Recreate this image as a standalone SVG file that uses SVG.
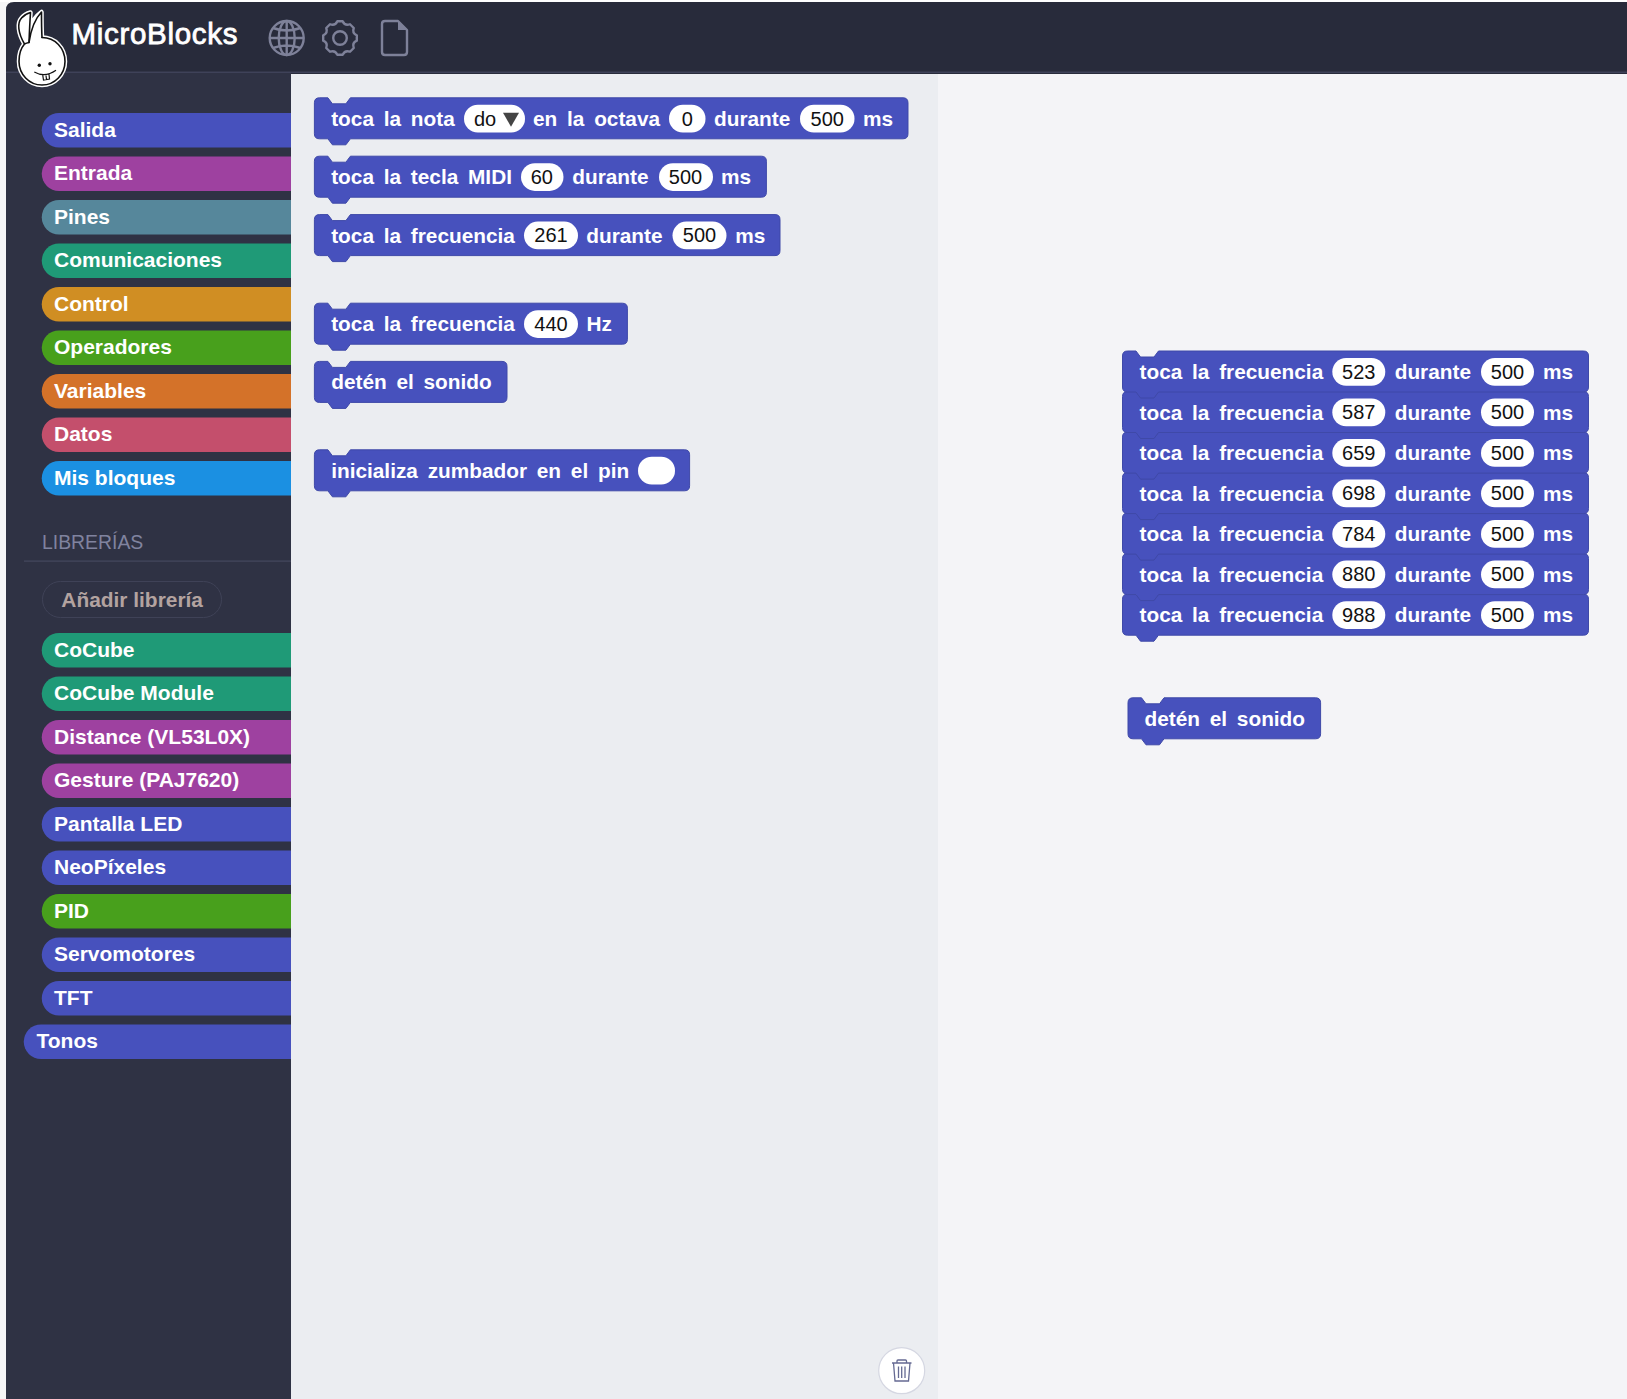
<svg xmlns="http://www.w3.org/2000/svg" width="1627" height="1399" viewBox="0 0 1627 1399">
<style>
text{font-family:"Liberation Sans",Arial,sans-serif}
.bt{font-weight:700;font-size:20.8px;fill:#fff;word-spacing:4px}
.num{font-size:20px;fill:#111;text-anchor:middle}
.pill{fill:#fff}
.blk{fill:#4751bd;stroke:#3f49a8;stroke-width:1}
.cat{font-weight:700;font-size:21px;fill:#fff}
.ic{fill:none;stroke:#7e8199;stroke-width:2.4}
.ln{fill:none;stroke:#111;stroke-width:1.6;stroke-linejoin:round;stroke-linecap:round}
</style>
<defs>
<path id="stackShape" class="blk" d="M5 0H13.500L18 6H31.500L36 0H461Q466 0 466 5V36Q466 41 461 41H36L31.500 47H18L13.500 41H5Q0 41 0 36V5Q0 0 5 0Z"/>
</defs>
<rect width="1627" height="1399" fill="#f6f6f7"/>
<rect y="0" width="1627" height="2" fill="#fff"/>
<g id="window">
<path d="M14 2H1627V74H6V10Q6 2 14 2Z" fill="#282b3b"/>
<rect x="6" y="72" width="285" height="1327" fill="#2f3244"/>
<rect x="6" y="71.500" width="1621" height="1.500" fill="#3f4259"/>
<rect x="291" y="74" width="647" height="1325" fill="#ebedf1"/>
<rect x="938" y="74" width="689" height="1325" fill="#f4f4f7"/>
</g>
<g id="title"><text x="71.500" y="43.800" font-size="29.500" letter-spacing=".7" stroke="#fff" stroke-width=".8" fill="#fff">MicroBlocks</text></g>
<g id="logo">
<path d="M24.500 44C18 33 17 23 21.500 18C24 15 27 13.500 30.500 12.500C30 20 29.500 24 29.800 28C32 22 36 16 41.500 12C41.500 20 41.500 28 42 37.500C55 37.500 65 48 65 61.500C65 74 55 85 42 85C29 85 19 74 19 61.500C19 54 21 48 24.500 44Z" fill="#fff" stroke="#fff" stroke-width="4.500" stroke-linejoin="round"/>
<path class="ln" d="M42 37.500C55 37.500 65 48 65 61.500C65 74 55 85 42 85C29 85 19 74 19 61.500C19 54 21 48 24.500 44C18 33 17 23 21.500 18C24 15 27 13.500 30.500 12.500C30 20 29.500 30 29 42.500C26.500 43 25.500 43.500 24.500 44"/>
<path class="ln" d="M29 42.500C30.500 32 33 21 41.500 12C41.500 20 41.500 28 42 37.500"/>
<circle cx="39.300" cy="65.300" r="1.700" fill="#111"/><circle cx="50" cy="63.700" r="1.700" fill="#111"/>
<path d="M34.300 72Q45 78 56 70.300M42.700 74.800L43.500 80L49.500 79L49 74.300M46 75.500L46.500 79.500" fill="none" stroke="#111" stroke-width="1.200"/>
</g>
<g id="icon-globe" class="ic"><circle cx="286.700" cy="38" r="17"/><ellipse cx="286.700" cy="38" rx="8" ry="17"/><path d="M286.700 21V55M269.700 38H303.700M273 28Q286.700 33 300.400 28M273 48Q286.700 43 300.400 48"/></g>
<g id="icon-gear" class="ic"><circle cx="340" cy="38" r="6.800"/><path transform="translate(340,38)" stroke-linejoin="round" d="M16.800 -2.660L16.800 2.660Q11.830 4.900 13.750 9.990L9.990 13.750Q4.900 11.830 2.660 16.800L-2.660 16.800Q-4.900 11.830 -9.990 13.750L-13.750 9.990Q-11.830 4.900 -16.800 2.660L-16.800 -2.660Q-11.830 -4.900 -13.750 -9.990L-9.990 -13.750Q-4.900 -11.830 -2.660 -16.800L2.660 -16.800Q4.900 -11.830 9.990 -13.750L13.750 -9.990Q11.830 -4.900 16.800 -2.660Z"/></g>
<g id="icon-doc" class="ic"><path d="M385 21H398L407 30V52Q407 55 404 55H385Q382 55 382 52V24Q382 21 385 21Z" stroke-linejoin="round"/><path d="M398 21L407 30H398Z" fill="#7e8199" stroke="none"/></g>
<g id="categories">
<g id="cat-salida"><path d="M291 113H59A17.250 17.250 0 0 0 59 147.500H291Z" fill="#4751bd"/><text class="cat" x="54" y="136.600">Salida</text></g>
<g id="cat-entrada"><path d="M291 156.500H59A17.250 17.250 0 0 0 59 191H291Z" fill="#9e41a0"/><text class="cat" x="54" y="180">Entrada</text></g>
<g id="cat-pines"><path d="M291 200H59A17.250 17.250 0 0 0 59 234.500H291Z" fill="#56879b"/><text class="cat" x="54" y="223.600">Pines</text></g>
<g id="cat-comunicaciones"><path d="M291 243.500H59A17.250 17.250 0 0 0 59 278H291Z" fill="#1f9a77"/><text class="cat" x="54" y="267">Comunicaciones</text></g>
<g id="cat-control"><path d="M291 287H59A17.250 17.250 0 0 0 59 321.500H291Z" fill="#d08e23"/><text class="cat" x="54" y="310.600">Control</text></g>
<g id="cat-operadores"><path d="M291 330.500H59A17.250 17.250 0 0 0 59 365H291Z" fill="#48a01c"/><text class="cat" x="54" y="354">Operadores</text></g>
<g id="cat-variables"><path d="M291 374H59A17.250 17.250 0 0 0 59 408.500H291Z" fill="#d47229"/><text class="cat" x="54" y="397.600">Variables</text></g>
<g id="cat-datos"><path d="M291 417.500H59A17.250 17.250 0 0 0 59 452H291Z" fill="#c44f6c"/><text class="cat" x="54" y="441">Datos</text></g>
<g id="cat-misbloques"><path d="M291 461H59A17.250 17.250 0 0 0 59 495.500H291Z" fill="#1b90e2"/><text class="cat" x="54" y="484.600">Mis bloques</text></g>
</g>
<g id="libraries-head">
<text x="42" y="549.300" font-size="19.400" fill="#80839f">LIBRERÍAS</text>
<rect x="24" y="560.500" width="267" height="1.200" fill="#45485f"/>
<rect x="42.500" y="581.500" width="179" height="36" rx="18" fill="none" stroke="#3f4257"/>
<text x="61.300" y="606.700" font-size="20.900" font-weight="700" fill="#b3a3a0">Añadir librería</text>
</g>
<g id="libraries">
<g id="lib-cocube"><path d="M291 633H59A17.250 17.250 0 0 0 59 667.500H291Z" fill="#1f9a77"/><text class="cat" x="54" y="656.600">CoCube</text></g>
<g id="lib-cocubemodule"><path d="M291 676.500H59A17.250 17.250 0 0 0 59 711H291Z" fill="#1f9a77"/><text class="cat" x="54" y="700">CoCube Module</text></g>
<g id="lib-distance"><path d="M291 720H59A17.250 17.250 0 0 0 59 754.500H291Z" fill="#9e41a0"/><text class="cat" x="54" y="743.600">Distance (VL53L0X)</text></g>
<g id="lib-gesture"><path d="M291 763.500H59A17.250 17.250 0 0 0 59 798H291Z" fill="#9e41a0"/><text class="cat" x="54" y="787">Gesture (PAJ7620)</text></g>
<g id="lib-pantalla"><path d="M291 807H59A17.250 17.250 0 0 0 59 841.500H291Z" fill="#4751bd"/><text class="cat" x="54" y="830.600">Pantalla LED</text></g>
<g id="lib-neopixeles"><path d="M291 850.500H59A17.250 17.250 0 0 0 59 885H291Z" fill="#4751bd"/><text class="cat" x="54" y="874">NeoPíxeles</text></g>
<g id="lib-pid"><path d="M291 894H59A17.250 17.250 0 0 0 59 928.500H291Z" fill="#48a01c"/><text class="cat" x="54" y="917.600">PID</text></g>
<g id="lib-servomotores"><path d="M291 937.500H59A17.250 17.250 0 0 0 59 972H291Z" fill="#4751bd"/><text class="cat" x="54" y="961">Servomotores</text></g>
<g id="lib-tft"><path d="M291 981H59A17.250 17.250 0 0 0 59 1015.500H291Z" fill="#4751bd"/><text class="cat" x="54" y="1004.600">TFT</text></g>
<g id="lib-tonos"><path d="M291 1024.500H41A17.250 17.250 0 0 0 41 1059H291Z" fill="#4751bd"/><text class="cat" x="36.500" y="1048">Tonos</text></g>
</g>
<g id="connectors"/>
<g id="palette">
<g id="b-nota" transform="translate(0,97.800)">
<path class="blk" transform="translate(314.400,0)" d="M5 0H13.500L18 6H31.500L36 0H588.600Q593.600 0 593.600 5V36Q593.600 41 588.600 41H36L31.500 47H18L13.500 41H5Q0 41 0 36V5Q0 0 5 0Z"/>
<text class="bt" x="331.200" y="28">toca la nota</text>
<rect class="pill" x="464" y="7" width="61" height="27.700" rx="13.850"/><text class="num" x="485" y="27.800">do</text><path d="M503 15H519L511 29Z" fill="#444"/>
<text class="bt" x="533" y="28">en la octava</text>
<rect class="pill" x="669" y="7" width="36.500" height="27.700" rx="13.850"/><text class="num" x="687.200" y="27.800">0</text>
<text class="bt" x="714" y="28">durante</text>
<rect class="pill" x="800" y="7" width="54.500" height="27.700" rx="13.850"/><text class="num" x="827.300" y="27.800">500</text>
<text class="bt" x="863" y="28">ms</text>
</g>
<g id="b-midi" transform="translate(0,156.200)">
<path class="blk" transform="translate(314.400,0)" d="M5 0H13.500L18 6H31.500L36 0H447Q452 0 452 5V36Q452 41 447 41H36L31.500 47H18L13.500 41H5Q0 41 0 36V5Q0 0 5 0Z"/>
<text class="bt" x="331.200" y="28">toca la tecla MIDI</text>
<rect class="pill" x="521" y="7" width="42.500" height="27.700" rx="13.850"/><text class="num" x="541.800" y="27.800">60</text>
<text class="bt" x="572.300" y="28">durante</text>
<rect class="pill" x="659" y="7" width="54" height="27.700" rx="13.850"/><text class="num" x="685.500" y="27.800">500</text>
<text class="bt" x="721" y="28">ms</text>
</g>
<g id="b-freq" transform="translate(0,214.600)">
<path class="blk" transform="translate(314.400,0)" d="M5 0H13.500L18 6H31.500L36 0H460.600Q465.600 0 465.600 5V36Q465.600 41 460.600 41H36L31.500 47H18L13.500 41H5Q0 41 0 36V5Q0 0 5 0Z"/>
<text class="bt" x="331.200" y="28">toca la frecuencia</text>
<rect class="pill" x="524" y="7" width="54" height="27.700" rx="13.850"/><text class="num" x="551" y="27.800">261</text>
<text class="bt" x="586.300" y="28">durante</text>
<rect class="pill" x="672.500" y="7" width="54" height="27.700" rx="13.850"/><text class="num" x="699.500" y="27.800">500</text>
<text class="bt" x="735.300" y="28">ms</text>
</g>
<g id="b-hz" transform="translate(0,303.200)">
<path class="blk" transform="translate(314.400,0)" d="M5 0H13.500L18 6H31.500L36 0H308Q313 0 313 5V36Q313 41 308 41H36L31.500 47H18L13.500 41H5Q0 41 0 36V5Q0 0 5 0Z"/>
<text class="bt" x="331.200" y="28">toca la frecuencia</text>
<rect class="pill" x="524" y="7" width="54" height="27.700" rx="13.850"/><text class="num" x="551" y="27.800">440</text>
<text class="bt" x="586.500" y="28">Hz</text>
</g>
<g id="b-stop" transform="translate(0,361.400)">
<path class="blk" transform="translate(314.400,0)" d="M5 0H13.500L18 6H31.500L36 0H187.600Q192.600 0 192.600 5V36Q192.600 41 187.600 41H36L31.500 47H18L13.500 41H5Q0 41 0 36V5Q0 0 5 0Z"/>
<text class="bt" x="331.200" y="28">detén el sonido</text>
</g>
<g id="b-init" transform="translate(0,449.800)">
<path class="blk" transform="translate(314.400,0)" d="M5 0H13.500L18 6H31.500L36 0H370.200Q375.200 0 375.200 5V36Q375.200 41 370.200 41H36L31.500 47H18L13.500 41H5Q0 41 0 36V5Q0 0 5 0Z"/>
<text class="bt" x="331.200" y="28">inicializa zumbador en el pin</text>
<rect class="pill" x="638" y="7" width="37" height="27.700" rx="13.850"/>
</g>
</g>
<g id="scripts">
<g id="s-988" transform="translate(0,594.200)"><use href="#stackShape" x="1122.500"/><text class="bt" x="1139.500" y="28">toca la frecuencia</text><rect class="pill" x="1332.300" y="7" width="53" height="27.700" rx="13.850"/><text class="num" x="1358.800" y="27.800">988</text><text class="bt" x="1394.700" y="28">durante</text><rect class="pill" x="1481" y="7" width="53" height="27.700" rx="13.850"/><text class="num" x="1507.500" y="27.800">500</text><text class="bt" x="1543" y="28">ms</text></g>
<g id="s-880" transform="translate(0,553.600)"><use href="#stackShape" x="1122.500"/><text class="bt" x="1139.500" y="28">toca la frecuencia</text><rect class="pill" x="1332.300" y="7" width="53" height="27.700" rx="13.850"/><text class="num" x="1358.800" y="27.800">880</text><text class="bt" x="1394.700" y="28">durante</text><rect class="pill" x="1481" y="7" width="53" height="27.700" rx="13.850"/><text class="num" x="1507.500" y="27.800">500</text><text class="bt" x="1543" y="28">ms</text></g>
<g id="s-784" transform="translate(0,513.100)"><use href="#stackShape" x="1122.500"/><text class="bt" x="1139.500" y="28">toca la frecuencia</text><rect class="pill" x="1332.300" y="7" width="53" height="27.700" rx="13.850"/><text class="num" x="1358.800" y="27.800">784</text><text class="bt" x="1394.700" y="28">durante</text><rect class="pill" x="1481" y="7" width="53" height="27.700" rx="13.850"/><text class="num" x="1507.500" y="27.800">500</text><text class="bt" x="1543" y="28">ms</text></g>
<g id="s-698" transform="translate(0,472.600)"><use href="#stackShape" x="1122.500"/><text class="bt" x="1139.500" y="28">toca la frecuencia</text><rect class="pill" x="1332.300" y="7" width="53" height="27.700" rx="13.850"/><text class="num" x="1358.800" y="27.800">698</text><text class="bt" x="1394.700" y="28">durante</text><rect class="pill" x="1481" y="7" width="53" height="27.700" rx="13.850"/><text class="num" x="1507.500" y="27.800">500</text><text class="bt" x="1543" y="28">ms</text></g>
<g id="s-659" transform="translate(0,432.100)"><use href="#stackShape" x="1122.500"/><text class="bt" x="1139.500" y="28">toca la frecuencia</text><rect class="pill" x="1332.300" y="7" width="53" height="27.700" rx="13.850"/><text class="num" x="1358.800" y="27.800">659</text><text class="bt" x="1394.700" y="28">durante</text><rect class="pill" x="1481" y="7" width="53" height="27.700" rx="13.850"/><text class="num" x="1507.500" y="27.800">500</text><text class="bt" x="1543" y="28">ms</text></g>
<g id="s-587" transform="translate(0,391.500)"><use href="#stackShape" x="1122.500"/><text class="bt" x="1139.500" y="28">toca la frecuencia</text><rect class="pill" x="1332.300" y="7" width="53" height="27.700" rx="13.850"/><text class="num" x="1358.800" y="27.800">587</text><text class="bt" x="1394.700" y="28">durante</text><rect class="pill" x="1481" y="7" width="53" height="27.700" rx="13.850"/><text class="num" x="1507.500" y="27.800">500</text><text class="bt" x="1543" y="28">ms</text></g>
<g id="s-523" transform="translate(0,351)"><use href="#stackShape" x="1122.500"/><text class="bt" x="1139.500" y="28">toca la frecuencia</text><rect class="pill" x="1332.300" y="7" width="53" height="27.700" rx="13.850"/><text class="num" x="1358.800" y="27.800">523</text><text class="bt" x="1394.700" y="28">durante</text><rect class="pill" x="1481" y="7" width="53" height="27.700" rx="13.850"/><text class="num" x="1507.500" y="27.800">500</text><text class="bt" x="1543" y="28">ms</text></g>
<g id="s-stop" transform="translate(0,697.800)">
<path class="blk" transform="translate(1128,0)" d="M5 0H13.500L18 6H31.500L36 0H187.600Q192.600 0 192.600 5V36Q192.600 41 187.600 41H36L31.500 47H18L13.500 41H5Q0 41 0 36V5Q0 0 5 0Z"/>
<text class="bt" x="1144.500" y="28">detén el sonido</text>
</g>
</g>
<g id="trash">
<circle cx="901.700" cy="1370.700" r="23" fill="#fff" stroke="#d5d7e2" stroke-width="1.200"/>
<path d="M892 1363H911.500M897 1363V1361Q897 1360 898 1360H905.500Q906.500 1360 906.500 1361V1363M893.500 1363L895 1381H908.500L910 1363M898.500 1366.500V1378M901.700 1366.500V1378M905 1366.500V1378" fill="none" stroke="#656a93" stroke-width="1.300"/>
</g>
</svg>
